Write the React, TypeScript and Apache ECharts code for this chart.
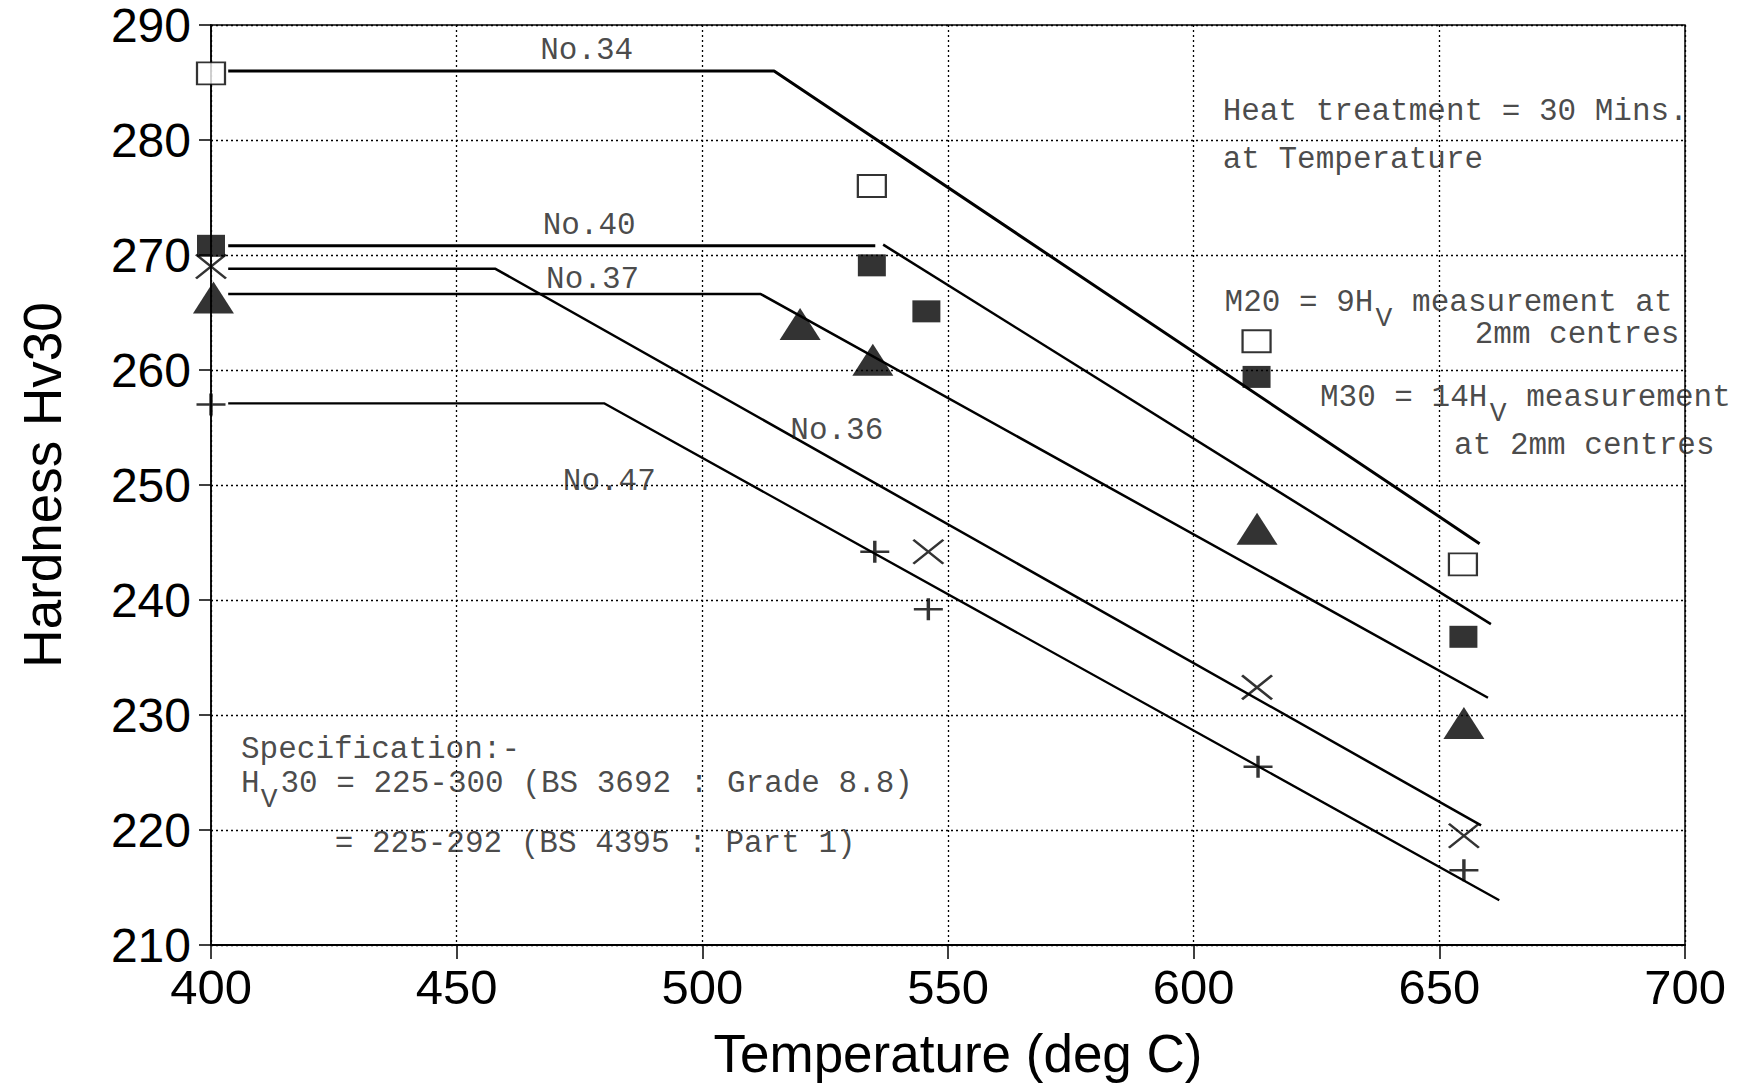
import React, { useEffect, useRef } from "react";
import * as echarts from "echarts";

// ---- data ----
const xMin = 400, xMax = 700, xStep = 50;
const yMin = 210, yMax = 290, yStep = 10;

const lineNo34 = [[403.5, 286], [514.6, 286], [658.2, 244.9]];
const lineNo40a = [[403.5, 270.8], [535.2, 270.8]];
const lineNo40b = [[536.8, 270.9], [660.5, 237.9]];
const lineNo37 = [[403.5, 266.6], [511.9, 266.6], [659.9, 231.5]];
const lineNo36 = [[403.5, 268.8], [457.9, 268.8], [658.5, 220.4]];
const lineNo47 = [[403.5, 257.1], [480, 257.1], [662.2, 213.9]];

const openSquare = [[400, 285.8], [534.5, 276.0], [612.8, 262.5], [654.8, 243.1]];
const filledSquare = [[400, 270.8], [534.5, 269.1], [545.6, 265.1], [612.8, 259.4], [654.9, 236.8]];
const triangle = [[400.5, 266.3], [519.9, 264.0], [534.7, 260.9], [612.9, 246.2], [655, 229.3]];
const cross = [[400, 269.0], [546, 244.2], [612.9, 232.4], [655, 219.5]];
const plus = [[400, 257.0], [535.1, 244.2], [546, 239.2], [613.1, 225.5], [655, 216.5]];

const lineLabels = [
  { text: "No.34", at: [467, 287.8] },
  { text: "No.40", at: [467.5, 272.6] },
  { text: "No.37", at: [468.2, 267.9] },
  { text: "No.36", at: [517.9, 254.7] },
  { text: "No.47", at: [471.6, 250.3] },
];

const CH = 18.75; // monospace char advance in px
const notes = [
  { text: "Heat treatment = 30 Mins.", at: [605.9, 282.5], dx: 0, dy: 0 },
  { text: "at Temperature", at: [605.9, 278.3], dx: 0, dy: 0 },
  { text: "M20 = 9H", at: [606.3, 265.85], dx: 0, dy: 0 },
  { text: "V", at: [606.3, 265.85], dx: 8 * CH + 1, dy: 16, sub: true },
  { text: "measurement at", at: [606.3, 265.85], dx: 10 * CH, dy: 0 },
  { text: "2mm centres", at: [657.2, 263.1], dx: 0, dy: 0 },
  { text: "M30 = 14H", at: [625.7, 257.6], dx: 0, dy: 0 },
  { text: "V", at: [625.7, 257.6], dx: 9 * CH + 1, dy: 16, sub: true },
  { text: "measurement", at: [625.7, 257.6], dx: 11 * CH, dy: 0 },
  { text: "at 2mm centres", at: [653.0, 253.4], dx: 0, dy: 0 },
  { text: "Specification:-", at: [406.1, 227.0], dx: 0, dy: 0 },
  { text: "H", at: [406.1, 224.05], dx: 0, dy: 0 },
  { text: "V", at: [406.1, 224.05], dx: CH + 1, dy: 16, sub: true },
  { text: "30 = 225-300 (BS 3692 : Grade 8.8)", at: [406.1, 224.05], dx: 2 * CH + 2, dy: 0 },
  { text: "= 225-292 (BS 4395 : Part 1)", at: [406.1, 218.8], dx: 5 * CH, dy: 0 },
];

const MONO = "'Liberation Mono', 'DejaVu Sans Mono', monospace";
const SANS = "'Liberation Sans', Arial, sans-serif";

function lineSeries(data: number[][], width: number) {
  return {
    type: "line",
    data,
    symbol: "none",
    lineStyle: { color: "#000", width },
    silent: true,
    z: 2,
  };
}

function textSeries(items: { text: string; at: number[]; dx?: number; dy?: number; sub?: boolean }[]) {
  return {
    type: "scatter",
    symbolSize: 0,
    silent: true,
    z: 5,
    data: items.map((it) => ({
      value: it.at,
      label: {
        show: true,
        formatter: it.text,
        position: "right",
        distance: 0,
        offset: [it.dx || 0, it.dy || 0],
        fontFamily: MONO,
        fontSize: it.sub ? 28 : 31,
        lineHeight: 22,
        color: "#1a1a1a",
      },
    })),
  };
}

export default function App() {
  const ref = useRef<HTMLDivElement>(null);
  useEffect(() => {
    if (!ref.current) return;
    const chart = echarts.init(ref.current, undefined, { renderer: "svg" });
    const option = {
      animation: false,
      backgroundColor: "#fff",
      grid: {
        left: 211,
        top: 25,
        width: 1474,
        height: 921,
        show: true,
        borderColor: "#000",
        borderWidth: 1.5,
        backgroundColor: "transparent",
      },
      xAxis: {
        type: "value",
        min: xMin,
        max: xMax,
        interval: xStep,
        name: "Temperature (deg C)",
        nameLocation: "middle",
        nameGap: 82,
        nameTextStyle: { fontFamily: SANS, fontSize: 53, color: "#000", padding: [0, 0, 0, 20] },
        axisLine: { show: true, lineStyle: { color: "#000", width: 2 } },
        axisTick: { show: true, inside: false, length: 14, lineStyle: { color: "#000", width: 1.5 } },
        axisLabel: { fontFamily: SANS, fontSize: 49, lineHeight: 40, color: "#000", margin: 22 },
        splitLine: { show: true, lineStyle: { color: "#000", width: 1.3, type: [2, 3] } },
      },
      yAxis: {
        type: "value",
        min: yMin,
        max: yMax,
        interval: yStep,
        name: "Hardness Hv30",
        nameLocation: "middle",
        nameGap: 142,
        nameTextStyle: { fontFamily: SANS, fontSize: 53, color: "#000" },
        axisLine: { show: true, lineStyle: { color: "#000", width: 1.5 } },
        axisTick: { show: true, inside: false, length: 12, lineStyle: { color: "#000", width: 1.5 } },
        axisLabel: { fontFamily: SANS, fontSize: 48, lineHeight: 40, color: "#000", margin: 20 },
        splitLine: { show: true, lineStyle: { color: "#000", width: 1.3, type: [2, 3] } },
      },
      series: [
        lineSeries(lineNo34, 3),
        lineSeries(lineNo40a, 3),
        lineSeries(lineNo40b, 2.5),
        lineSeries(lineNo37, 2.5),
        lineSeries(lineNo36, 2.5),
        lineSeries(lineNo47, 2.3),
        {
          type: "scatter",
          data: openSquare,
          symbol: "rect",
          symbolSize: [28, 22],
          itemStyle: { color: "#fff", borderColor: "#000", borderWidth: 2 },
          z: 4,
        },
        {
          type: "scatter",
          data: filledSquare,
          symbol: "rect",
          symbolSize: [28, 22],
          itemStyle: { color: "#000" },
          z: 4,
        },
        {
          type: "scatter",
          data: triangle,
          symbol: "triangle",
          symbolSize: [41, 32],
          itemStyle: { color: "#000" },
          z: 4,
        },
        {
          type: "scatter",
          data: cross,
          symbol: "path://M0,0L20,20M20,0L0,20",
          symbolSize: [30, 24],
          itemStyle: { color: "none", borderColor: "#000", borderWidth: 2.5 },
          z: 4,
        },
        {
          type: "scatter",
          data: plus,
          symbol: "path://M10,0L10,20M0,10L20,10",
          symbolSize: [29, 22],
          itemStyle: { color: "none", borderColor: "#000", borderWidth: 3 },
          z: 4,
        },
        textSeries(lineLabels),
        textSeries(notes),
      ],
    };
    chart.setOption(option as any);
    return () => chart.dispose();
  }, []);
  return (
    <div
      ref={ref}
      style={{ position: "fixed", left: 0, top: 0, width: "1750px", height: "1085px", background: "#fff" }}
    />
  );
}
